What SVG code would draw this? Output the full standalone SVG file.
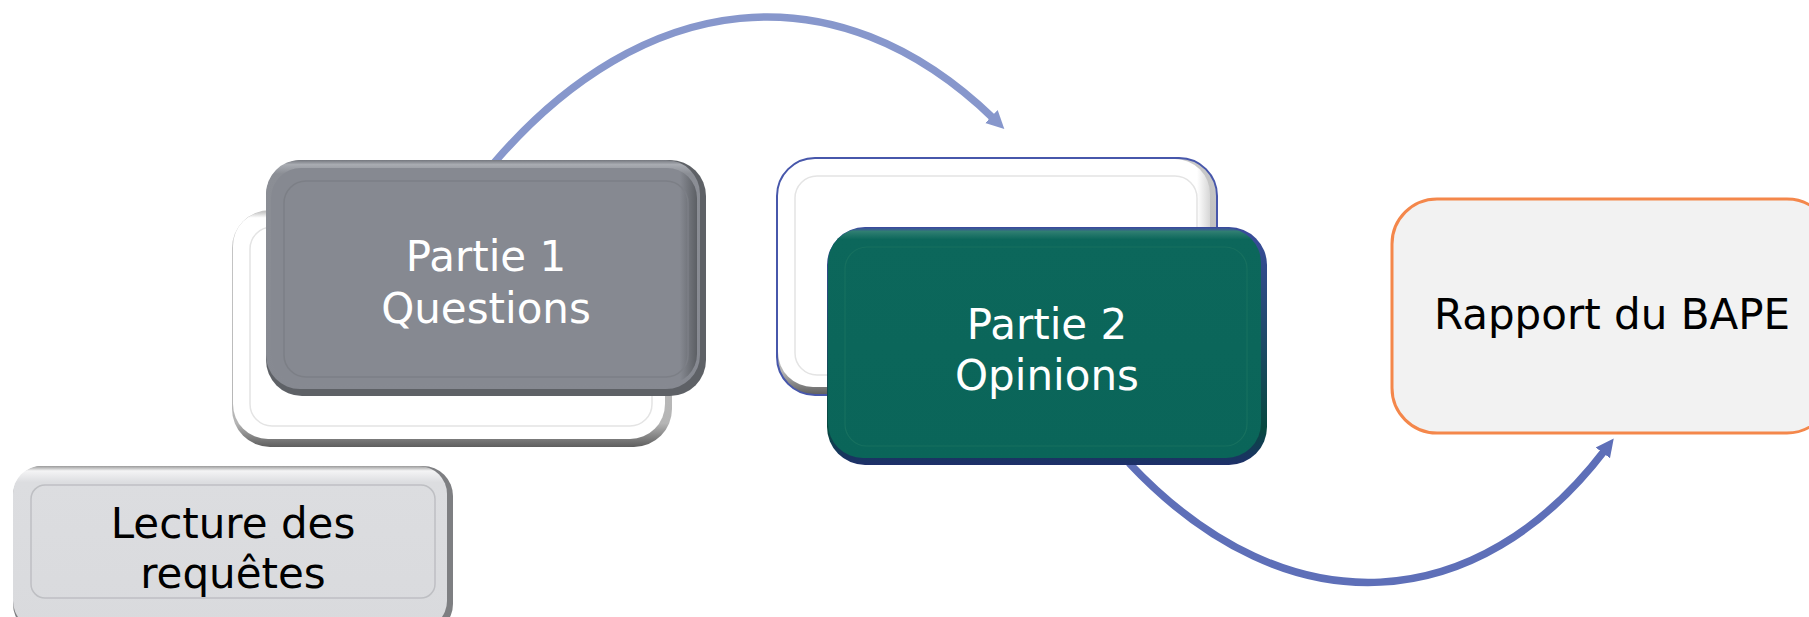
<svg xmlns="http://www.w3.org/2000/svg" width="1809" height="617" viewBox="0 0 1809 617">
<style>
  .lbl { font-family: "DejaVu Sans", Verdana, "Liberation Sans", sans-serif; font-size: 42px; text-anchor: middle; }
  .w { fill: #FFFFFF; }
  .k { fill: #000000; }
  .conn { fill: none; stroke-width: 7.5; stroke-linecap: butt; }
</style>
<defs>
  <linearGradient id="gHi" x1="0" y1="0" x2="0" y2="1">
    <stop offset="0" stop-color="#74777E"/>
    <stop offset="0.02" stop-color="#A9ACB2"/>
    <stop offset="0.06" stop-color="#8B8E95"/>
    <stop offset="1" stop-color="#868991"/>
  </linearGradient>
  <linearGradient id="gSide" x1="0" y1="0" x2="1" y2="0">
    <stop offset="0" stop-color="#868991"/>
    <stop offset="0.96" stop-color="#868991"/>
    <stop offset="1" stop-color="#5C5F64"/>
  </linearGradient>
  <linearGradient id="wHi" x1="0" y1="0" x2="0" y2="1">
    <stop offset="0" stop-color="#BDBDBD"/>
    <stop offset="0.03" stop-color="#FFFFFF"/>
    <stop offset="1" stop-color="#FFFFFF"/>
  </linearGradient>
  <linearGradient id="wSide" x1="0" y1="0" x2="1" y2="0">
    <stop offset="0" stop-color="#FFFFFF"/>
    <stop offset="0.97" stop-color="#FFFFFF"/>
    <stop offset="1" stop-color="#D6D6D6"/>
  </linearGradient>
  <linearGradient id="wEdge" x1="0" y1="0" x2="0" y2="1">
    <stop offset="0" stop-color="#C8C8C8"/>
    <stop offset="0.9" stop-color="#B5B5B5"/>
    <stop offset="1" stop-color="#5E5E5E"/>
  </linearGradient>
  <linearGradient id="tHi" x1="0" y1="0" x2="0" y2="1">
    <stop offset="0" stop-color="#3E4F9E"/>
    <stop offset="0.015" stop-color="#2F7E71"/>
    <stop offset="0.05" stop-color="#0C675B"/>
    <stop offset="1" stop-color="#0A6559"/>
  </linearGradient>
  <linearGradient id="tEdge" x1="0" y1="0" x2="0" y2="1">
    <stop offset="0" stop-color="#3A4C9C"/>
    <stop offset="0.85" stop-color="#07483F"/>
    <stop offset="1" stop-color="#1E2F6A"/>
  </linearGradient>
  <linearGradient id="lHi" x1="0" y1="0" x2="0" y2="1">
    <stop offset="0" stop-color="#9A9A9A"/>
    <stop offset="0.03" stop-color="#F4F4F5"/>
    <stop offset="0.1" stop-color="#DCDDE0"/>
    <stop offset="1" stop-color="#D9DADD"/>
  </linearGradient>
  <marker id="ahTop" viewBox="0 0 10 10" refX="2" refY="5" markerWidth="18" markerHeight="21" markerUnits="userSpaceOnUse" orient="auto">
    <path d="M0,0 L10,5 L0,10 Z" fill="#8797CC"/>
  </marker>
  <marker id="ahBot" viewBox="0 0 10 10" refX="2" refY="5" markerWidth="18" markerHeight="21" markerUnits="userSpaceOnUse" orient="auto">
    <path d="M0,0 L10,5 L0,10 Z" fill="#5E6FB8"/>
  </marker>
</defs>

<g id="connectors">
  <path class="conn" d="M494,163 C642,-10 835,-35 994,119" stroke="#8797CC" marker-end="url(#ahTop)"/>
  <path class="conn" d="M1129,463 C1290,634 1480,614 1605,450" stroke="#5E6FB8" marker-end="url(#ahBot)"/>
</g>

<g id="back-partie1">
  <rect x="232" y="210" width="440" height="237" rx="38" fill="url(#wEdge)"/>
  <rect x="233" y="211" width="432" height="228" rx="35" fill="url(#wHi)"/>
  <rect x="250" y="227" width="402" height="199" rx="22" fill="none" stroke="#E4E4E4" stroke-width="1.5"/>
</g>

<g id="partie1">
  <rect x="266" y="160" width="440" height="236" rx="36" fill="#5E6166"/>
  <rect x="266" y="160" width="434" height="229" rx="34" fill="url(#gHi)"/>
  <rect x="271" y="168" width="426" height="216" rx="30" fill="url(#gSide)"/>
  <rect x="284" y="181" width="404" height="196" rx="22" fill="none" stroke="#7C7F86" stroke-width="1.5"/>
  <text class="lbl w" x="486" y="271">Partie 1</text>
  <text class="lbl w" x="486" y="323">Questions</text>
</g>

<g id="back-partie2">
  <rect x="777" y="158" width="440" height="237" rx="38" fill="url(#wEdge)"/>
  <rect x="778" y="159" width="432" height="228" rx="35" fill="url(#wSide)"/>
  <rect x="795" y="176" width="402" height="199" rx="22" fill="none" stroke="#E4E4E4" stroke-width="1.5"/>
  <rect x="777" y="158" width="440" height="237" rx="38" fill="none" stroke="#4757AB" stroke-width="2"/>
</g>

<g id="partie2">
  <rect x="827" y="227" width="440" height="238" rx="38" fill="url(#tEdge)"/>
  <rect x="828" y="228" width="433" height="230" rx="35" fill="url(#tHi)"/>
  <rect x="845" y="247" width="402" height="199" rx="22" fill="none" stroke="#17705F" stroke-width="1.2"/>
  <text class="lbl w" x="1047" y="339">Partie 2</text>
  <text class="lbl w" x="1047" y="390">Opinions</text>
</g>

<g id="lecture">
  <rect x="13" y="466" width="440" height="168" rx="30" fill="#7E7F82"/>
  <rect x="13" y="466" width="434" height="163" rx="28" fill="url(#lHi)"/>
  <rect x="31" y="485" width="404" height="113" rx="14" fill="none" stroke="#BEBFC3" stroke-width="1.5"/>
  <text class="lbl k" x="233" y="538">Lecture des</text>
  <text class="lbl k" x="233" y="588">requêtes</text>
</g>

<g id="rapport">
  <rect x="1392" y="199" width="440" height="234" rx="45" fill="#F2F2F2" stroke="#F4874B" stroke-width="3"/>
  <text class="lbl k" x="1612" y="329">Rapport du BAPE</text>
</g>
</svg>
